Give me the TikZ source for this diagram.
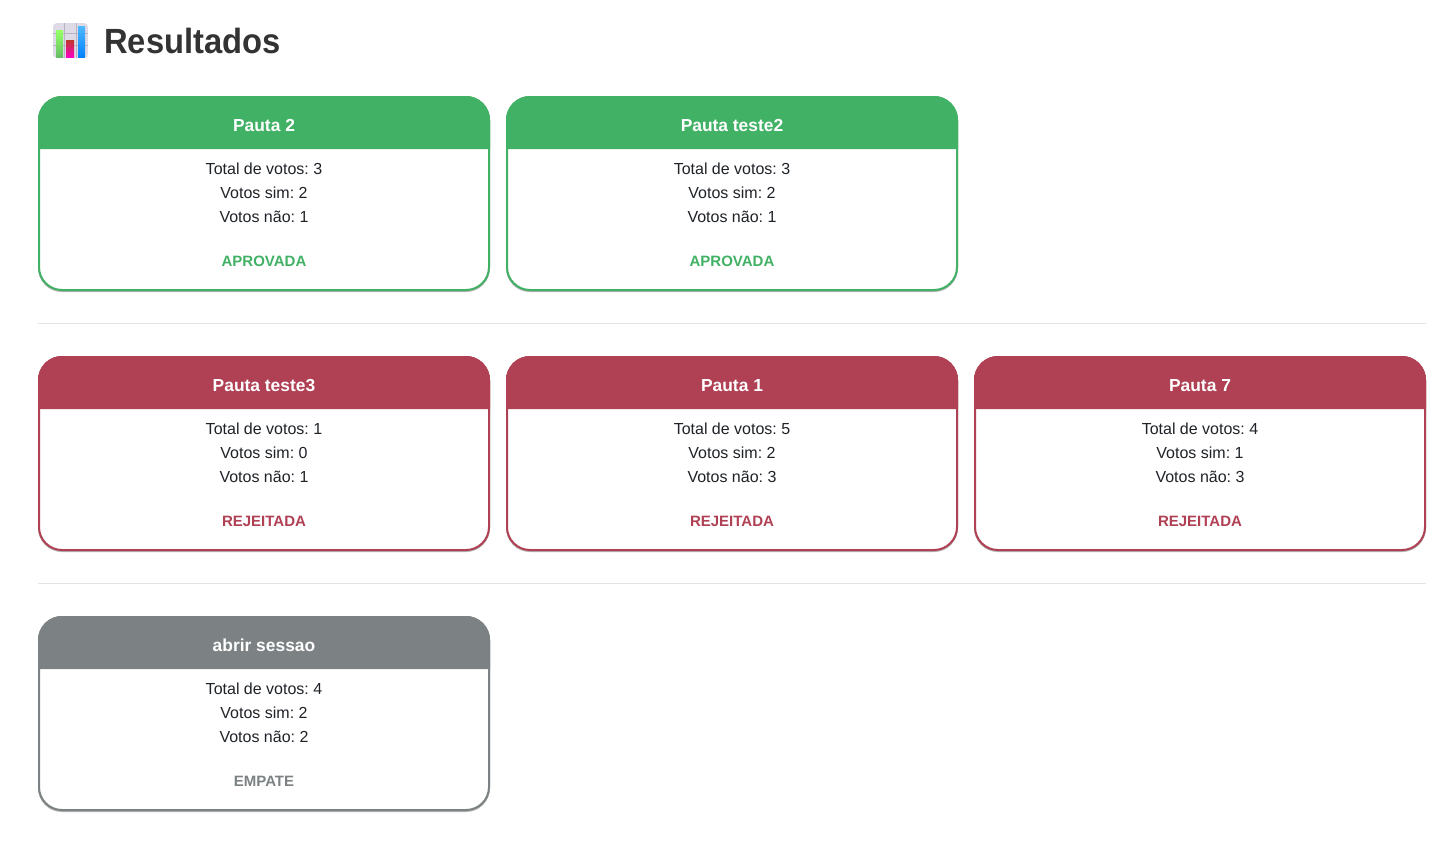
\documentclass[tikz,border=0pt]{standalone}
\usepackage{fontspec}
\setmainfont{Liberation Sans}
\definecolor{okgreen}{HTML}{41B165}
\definecolor{badred}{HTML}{B04054}
\definecolor{tiegray}{HTML}{7C8283}
\definecolor{inkdark}{HTML}{1F2328}
\definecolor{headdark}{HTML}{333333}
\definecolor{rulegray}{HTML}{E2E2E2}
\definecolor{iconback}{HTML}{DFDBE6}
\definecolor{icongrid}{HTML}{B9B4C2}
\tikzset{
  x=1pt,y=-1pt,
  cardbody/.style={line width=2pt,fill=white,rounded corners=23pt},
  cardshadow/.style={line width=2pt,draw=black!30,rounded corners=23pt},
  cardhead/.style={font=\frenchspacing\fontsize{17.4}{18}\bfseries\selectfont,text=white,anchor=base},
  cardline/.style={font=\frenchspacing\fontsize{16}{16}\selectfont,text=inkdark,anchor=base},
  cardverdict/.style={font=\fontsize{15}{16}\bfseries\selectfont,anchor=base},
  pagetitle/.style={font=\fontsize{35}{35}\bfseries\selectfont,text=headdark,anchor=base west,xscale=.935,transform shape},
  sep/.style={draw=rulegray,line width=1pt},
}
\newcommand{\rescard}[9]{%
  \begin{scope}[shift={(#2,#3)}]
    \draw[cardshadow] (1,1.8) rectangle (451,195);
    \draw[cardbody,draw=#4] (1,1) rectangle (451,194);
    \fill[#4] (0,53) -- (0,24) .. controls (0,10.8) and (10.8,0) .. (24,0) -- (428,0)
      .. controls (441.2,0) and (452,10.8) .. (452,24) -- (452,53) -- cycle;
    \node[cardhead] (#1h) at (226,35) {#5};
    \node[cardline] (#1t) at (226,78) {Total de votos: #6};
    \node[cardline] (#1s) at (226,102) {Votos sim: #7};
    \node[cardline] (#1n) at (226,126) {Votos não: #8};
    \node[cardverdict,text=#4] (#1v) at (226,170) {#9};
  \end{scope}}
\begin{document}
\begin{tikzpicture}
  \useasboundingbox (0,0) rectangle (1455,843);
  \fill[white] (0,0) rectangle (1455,843);
  % icon
  \begin{scope}
    \clip[rounded corners=4pt] (53,23) rectangle (88,58);
    \fill[iconback] (53,23) rectangle (88,58);
    \draw[icongrid,line width=1pt] (64,23) -- (64,58) (76,23) -- (76,58) (53,34) -- (88,34) (53,46) -- (88,46);
    \shade[top color=green!70!yellow!60!white,bottom color=green!55!black!60!white] (56,31) rectangle (63,58);
    \shade[top color=red!70!black!80!white,bottom color=magenta!80!red] (66,41) rectangle (74,58);
    \shade[top color=cyan!60!blue!70!white,bottom color=blue!50!cyan] (78,27) rectangle (85,58);
  \end{scope}
  \node[pagetitle] (title) at (101,53) {Resultados};
  \rescard{a}{38}{96}{okgreen}{Pauta 2}{3}{2}{1}{APROVADA}
  \rescard{b}{506}{96}{okgreen}{Pauta teste2}{3}{2}{1}{APROVADA}
  \draw[sep] (38,323.5) -- (1426,323.5);
  \rescard{c}{38}{356}{badred}{Pauta teste3}{1}{0}{1}{REJEITADA}
  \rescard{d}{506}{356}{badred}{Pauta 1}{5}{2}{3}{REJEITADA}
  \rescard{e}{974}{356}{badred}{Pauta 7}{4}{1}{3}{REJEITADA}
  \draw[sep] (38,583.5) -- (1426,583.5);
  \rescard{f}{38}{616}{tiegray}{abrir sessao}{4}{2}{2}{EMPATE}
\end{tikzpicture}
\end{document}
